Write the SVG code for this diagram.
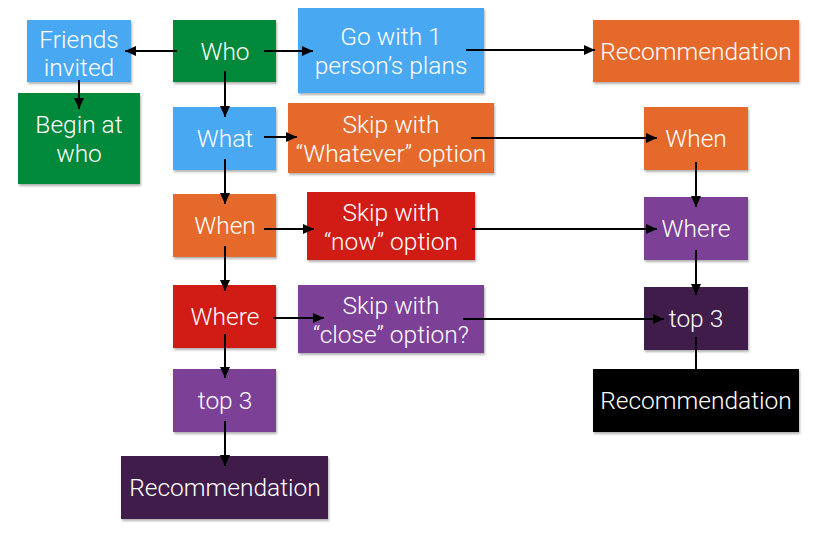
<svg xmlns="http://www.w3.org/2000/svg" width="834" height="539" viewBox="0 0 834 539">
<style>
.t{font-family:Roboto,"Helvetica Neue","Liberation Sans",sans-serif;font-weight:300;font-size:24.5px;fill:#fff;text-anchor:middle}
.b{filter:url(#sh)}
.blue{fill:#48A8F2}.green{fill:#02883B}.orange{fill:#E5692B}.red{fill:#D11F17}.purple{fill:#7C3F97}.dark{fill:#3F1F4C}.black{fill:#000}
.c{stroke:#000;stroke-width:2;fill:none}
.a{marker-end:url(#ah)}
</style>
<defs>
<filter id="sh" x="-10%" y="-10%" width="130%" height="140%"><feDropShadow dx="1" dy="2" stdDeviation="1.2" flood-color="#000" flood-opacity="0.3"/></filter>
<marker id="ah" markerUnits="userSpaceOnUse" markerWidth="12" markerHeight="12" viewBox="0 0 12 12" refX="11" refY="6" orient="auto"><path d="M0,1 L11,6 L0,11 Z" fill="#000"/></marker>
</defs>
<rect width="834" height="539" fill="#fff"/>
<g id="friends"><rect class="b blue" x="27" y="20" width="104" height="62"/><text class="t" x="79" y="48">Friends</text><text class="t" x="79" y="76">invited</text></g>
<g id="who"><rect class="b green" x="173" y="20" width="103" height="62"/><text class="t" x="225" y="60">Who</text></g>
<g id="go"><rect class="b blue" x="298" y="8" width="186" height="85"/><text class="t" x="391" y="45">Go with 1</text><text class="t" x="391" y="74">person’s plans</text></g>
<g id="rec1"><rect class="b orange" x="593" y="20" width="206" height="62"/><text class="t" x="696" y="60">Recommendation</text></g>
<g id="begin"><rect class="b green" x="18" y="93" width="122" height="91"/><text class="t" x="79" y="133">Begin at</text><text class="t" x="79" y="162">who</text></g>
<g id="what"><rect class="b blue" x="173" y="107" width="103" height="63"/><text class="t" x="225" y="147">What</text></g>
<g id="skipwhatever"><rect class="b orange" x="288" y="103" width="206" height="70"/><text class="t" x="391" y="133">Skip with</text><text class="t" x="391" y="162">“Whatever” option</text></g>
<g id="when2"><rect class="b orange" x="644" y="107" width="104" height="63"/><text class="t" x="696" y="147">When</text></g>
<g id="when"><rect class="b orange" x="173" y="194" width="103" height="63"/><text class="t" x="225" y="234">When</text></g>
<g id="skipnow"><rect class="b red" x="307" y="192" width="168" height="68"/><text class="t" x="391" y="221">Skip with</text><text class="t" x="391" y="250">“now” option</text></g>
<g id="where2"><rect class="b purple" x="644" y="197" width="104" height="63"/><text class="t" x="696" y="237">Where</text></g>
<g id="where"><rect class="b red" x="173" y="285" width="103" height="63"/><text class="t" x="225" y="325">Where</text></g>
<g id="skipclose"><rect class="b purple" x="298" y="285" width="186" height="68"/><text class="t" x="391" y="314">Skip with</text><text class="t" x="391" y="343">“close” option?</text></g>
<g id="top3b"><rect class="b dark" x="644" y="287" width="104" height="63"/><text class="t" x="696" y="327">top 3</text></g>
<g id="top3"><rect class="b purple" x="173" y="369" width="103" height="63"/><text class="t" x="225" y="409">top 3</text></g>
<g id="rec3"><rect class="b black" x="593" y="369" width="206" height="63"/><text class="t" x="696" y="409">Recommendation</text></g>
<g id="rec2"><rect class="b dark" x="121" y="456" width="207" height="63"/><text class="t" x="225" y="496">Recommendation</text></g>
<g id="connectors">
<path class="c a" d="M177,51 H125"/>
<path class="c a" d="M264,51 H313"/>
<path class="c a" d="M79,80 V109"/>
<path class="c a" d="M225,71 V117"/>
<path class="c a" d="M264,137 H297"/>
<path class="c a" d="M225,159 V204"/>
<path class="c a" d="M466,50 H595"/>
<path class="c a" d="M471,138 H657"/>
<path class="c a" d="M696,162 V207"/>
<path class="c a" d="M472,229 H657"/>
<path class="c a" d="M696,250 V295"/>
<path class="c a" d="M463,319 H664"/>
<path class="c" d="M696,337 V369"/>
<path class="c a" d="M264,229 H314"/>
<path class="c a" d="M225,246 V291"/>
<path class="c a" d="M273,318 H324"/>
<path class="c a" d="M225,334 V378"/>
<path class="c a" d="M225,421 V466"/>
</g>
</svg>
